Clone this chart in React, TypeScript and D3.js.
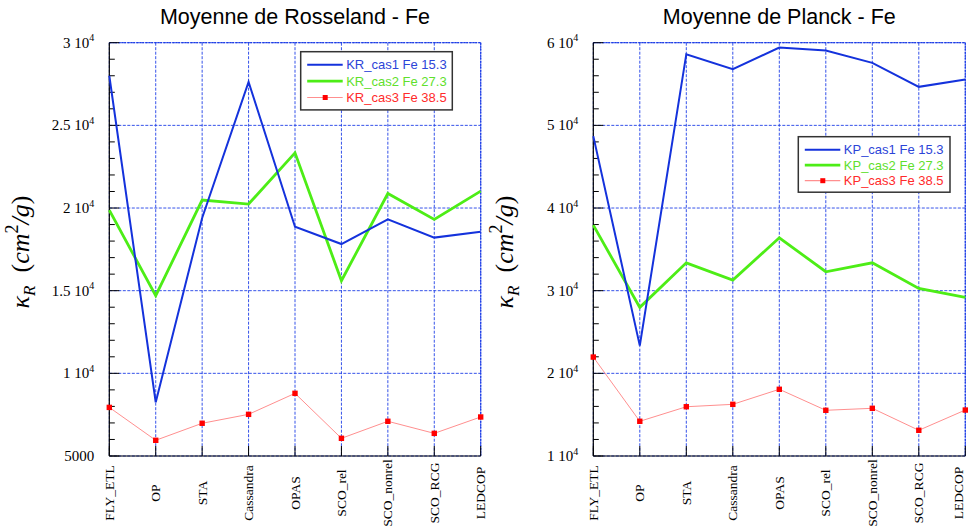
import React from "react";
import * as d3 from "d3";

const categories = ["FLY_ETL", "OP", "STA", "Cassandra", "OPAS", "SCO_rel", "SCO_nonrel", "SCO_RCG", "LEDCOP"];

// Rosseland (left)
const kr_cas1 = [28000, 8250, 19400, 27630, 18870, 17820, 19310, 18210, 18560];
const kr_cas2 = [19870, 14700, 20480, 20240, 23340, 15600, 20880, 19310, 21020];
const kr_cas3 = [7940, 5950, 6980, 7520, 8790, 6070, 7100, 6370, 7360];

// Planck (right)
const kp_cas1 = [48700, 23350, 58610, 56800, 59420, 59060, 57560, 54660, 55550];
const kp_cas2 = [37930, 27980, 33370, 31280, 36400, 32290, 33370, 30280, 29190];
const kp_cas3 = [21970, 14200, 15960, 16250, 18070, 15530, 15770, 13110, 15560];

const leftTicks = [5000, 10000, 15000, 20000, 25000, 30000];
const leftTickMant = ["5000", "1", "1.5", "2", "2.5", "3"];
const leftTickExp = ["", "4", "4", "4", "4", "4"];
const rightTicks = [10000, 20000, 30000, 40000, 50000, 60000];
const rightTickMant = ["1", "2", "3", "4", "5", "6"];
const rightTickExp = ["4", "4", "4", "4", "4", "4"];

const leftLegend = ["KR_cas1 Fe 15.3", "KR_cas2 Fe 27.3", "KR_cas3 Fe 38.5"];
const rightLegend = ["KP_cas1 Fe 15.3", "KP_cas2 Fe 27.3", "KP_cas3 Fe 38.5"];

const BLUE = "#1432dc";
const GREEN = "#4ded16";
const RED = "#ff0000";
const RED_LINE = "#ff8f8f";
const GRID = "#1e3ee6";

type PanelProps = {
  x0: number;
  x1: number;
  yDomain: [number, number];
  ticks: number[];
  tickMant: string[];
  tickExp: string[];
  minorStep: number;
  title: string;
  s1: number[];
  s2: number[];
  s3: number[];
  legend: string[];
  legendX: number;
  legendY: number;
  legendW: number;
  legendRow: number;
};

const TOP = 42.7;
const BOTTOM = 456;

function Panel(p: PanelProps) {
  const x = d3.scalePoint<string>().domain(categories).range([p.x0, p.x1]);
  const y = d3.scaleLinear().domain(p.yDomain).range([BOTTOM, TOP]);
  const line = (vals: number[]) =>
    d3.line<number>().x((_, i) => x(categories[i]) as number).y((v) => y(v))(vals) as string;
  const minors = d3.range(p.yDomain[0], p.yDomain[1] + 1, p.minorStep);
  const serif = "'Liberation Serif', 'Times New Roman', serif";
  const sans = "'Liberation Sans', Helvetica, Arial, sans-serif";
  const cx = (p.x0 + p.x1) / 2;
  const legendColors = [BLUE, GREEN, RED];
  const textColors = ["#2c44d8", "#5fe02c", "#ff2b2b"];
  return (
    <g>
      <text x={cx} y={24} textAnchor="middle" fontFamily={sans} fontSize={21.5} fill="#000">
        {p.title}
      </text>
      {/* grid */}
      {categories.map((c) => (
        <line key={"gx" + c} x1={x(c)} x2={x(c)} y1={TOP} y2={BOTTOM} stroke={GRID} strokeWidth={0.9} strokeDasharray="3,1.5" />
      ))}
      {p.ticks.map((t) => (
        <line key={"gy" + t} x1={p.x0} x2={p.x1} y1={y(t)} y2={y(t)} stroke={GRID} strokeWidth={0.9} strokeDasharray="3,1.5" />
      ))}
      <line x1={p.x0} x2={p.x1} y1={TOP} y2={TOP} stroke={GRID} strokeWidth={1.3} strokeDasharray="2,1" />
      <line x1={p.x1} x2={p.x1} y1={TOP} y2={BOTTOM} stroke={GRID} strokeWidth={1.3} strokeDasharray="2,1" />
      {/* axes */}
      <line x1={p.x0} x2={p.x0} y1={TOP} y2={BOTTOM} stroke="#000" strokeWidth={1.2} />
      <line x1={p.x0} x2={p.x1} y1={BOTTOM} y2={BOTTOM} stroke="#000" strokeWidth={1.2} />
      {minors.map((m) => {
        const major = p.ticks.indexOf(m) >= 0;
        return <line key={"mt" + m} x1={p.x0} x2={p.x0 + (major ? 10 : 5.5)} y1={y(m)} y2={y(m)} stroke="#000" strokeWidth={1} />;
      })}
      {categories.map((c) => (
        <line key={"xt" + c} x1={x(c)} x2={x(c)} y1={BOTTOM} y2={BOTTOM - 10} stroke="#000" strokeWidth={1} />
      ))}
      {/* y tick labels */}
      {p.ticks.map((t, i) => (
        <text key={"yl" + t} x={p.x0 - 15} y={y(t) + 5} textAnchor="end" fontFamily={serif} fontSize={15} fill="#000">
          {p.tickExp[i] ? (
            <>
              <tspan>{p.tickMant[i] + " 10"}</tspan>
              <tspan fontSize={10} dy={-6.5}>{p.tickExp[i]}</tspan>
            </>
          ) : (
            p.tickMant[i]
          )}
        </text>
      ))}
      {/* x labels */}
      {categories.map((c) => (
        <text
          key={"xl" + c}
          transform={`translate(${Math.min((x(c) as number) + 4.5, 963)},493) rotate(-90)`}
          textAnchor="middle"
          fontFamily={serif}
          fontSize={13.5}
          fill="#000"
        >
          {c}
        </text>
      ))}
      {/* y title */}
      <text transform={`translate(${p.x0 - 80},252) rotate(-90)`} textAnchor="middle" fontFamily={serif} fontSize={26} fill="#000">
        <tspan fontStyle="italic">κ</tspan>
        <tspan fontStyle="italic" fontSize={17} dy={6}>R</tspan>
        <tspan dy={-6}>{"\u00a0\u00a0("}</tspan>
        <tspan fontStyle="italic">cm</tspan>
        <tspan fontSize={18} dy={-11}>2</tspan>
        <tspan dy={11} fontStyle="italic">/g</tspan>
        <tspan>)</tspan>
      </text>
      {/* series */}
      <path d={line(p.s3)} fill="none" stroke={RED_LINE} strokeWidth={1} />
      {p.s3.map((v, i) => (
        <rect key={"m" + i} x={(x(categories[i]) as number) - 2.7} y={y(v) - 2.7} width={5.4} height={5.4} fill={RED} />
      ))}
      <path d={line(p.s2)} fill="none" stroke={GREEN} strokeWidth={2.8} strokeLinejoin="miter" />
      <path d={line(p.s1)} fill="none" stroke={BLUE} strokeWidth={2} />
      {/* legend */}
      <rect x={p.legendX} y={p.legendY} width={p.legendW} height={p.legendRow * 3 + 9} fill="#fff" stroke="#333" strokeWidth={1.5} />
      {p.legend.map((l, i) => {
        const ly = p.legendY + 13 + i * p.legendRow;
        return (
          <g key={"lg" + i}>
            <line x1={p.legendX + 6.5} x2={p.legendX + 42} y1={ly} y2={ly} stroke={i === 2 ? RED_LINE : legendColors[i]} strokeWidth={i === 0 ? 2 : i === 1 ? 2.8 : 1.2} />
            {i === 2 && <rect x={p.legendX + 22} y={ly - 2.5} width={5} height={5} fill={RED} />}
            <text x={p.legendX + 45.5} y={ly + 4.5} fontFamily={sans} fontSize={13} fill={textColors[i]}>
              {l}
            </text>
          </g>
        );
      })}
    </g>
  );
}

export default function App() {
  return (
    <svg width={968} height={531} style={{ position: "absolute", left: 0, top: 0, background: "#fff" }}>
      <rect width={968} height={531} fill="#fff" />
      <Panel
        x0={109.3}
        x1={480.7}
        yDomain={[5000, 30000]}
        ticks={leftTicks}
        tickMant={leftTickMant}
        tickExp={leftTickExp}
        minorStep={1000}
        title="Moyenne de Rosseland - Fe"
        s1={kr_cas1}
        s2={kr_cas2}
        s3={kr_cas3}
        legend={leftLegend}
        legendX={300.7}
        legendY={51.7}
        legendW={151.6}
        legendRow={16.4}
      />
      <Panel
        x0={593.3}
        x1={965.3}
        yDomain={[10000, 60000]}
        ticks={rightTicks}
        tickMant={rightTickMant}
        tickExp={rightTickExp}
        minorStep={2000}
        title="Moyenne de Planck - Fe"
        s1={kp_cas1}
        s2={kp_cas2}
        s3={kp_cas3}
        legend={rightLegend}
        legendX={798.3}
        legendY={136.7}
        legendW={151.7}
        legendRow={15.5}
      />
    </svg>
  );
}
